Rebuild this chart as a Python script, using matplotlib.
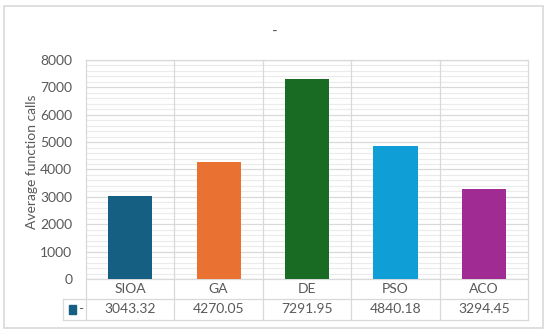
import matplotlib
matplotlib.use("Agg")
import matplotlib.pyplot as plt
from matplotlib.patches import Rectangle
from matplotlib.ticker import MultipleLocator
import matplotlib.transforms as mtrans

# ---------------- data ----------------
methods = ["SIOA", "GA", "DE", "PSO", "ACO"]
calls = [3043.32, 4270.05, 7291.95, 4840.18, 3294.45]
value_labels = ["3043.32", "4270.05", "7291.95", "4840.18", "3294.45"]
bar_colors = ["#156082", "#E97132", "#196B24", "#0F9ED5", "#A02B93"]
series_name = "-"

plt.rcParams["font.family"] = ["Lato", "DejaVu Sans"]
txt = "#595959"
grid_major = "#d9d9d9"
grid_minor = "#ebebeb"
fs = 10

fig = plt.figure(figsize=(5.5, 3.34), dpi=100)
ax = fig.add_axes([0.1564, 0.1647, 0.8036, 0.6557])

x = list(range(len(methods)))
ax.bar(x, calls, width=0.5, color=bar_colors, zorder=3)

ax.set_xlim(-0.5, len(methods) - 0.5)
ax.set_ylim(0, 8000)
ax.yaxis.set_major_locator(MultipleLocator(1000))
ax.yaxis.set_minor_locator(MultipleLocator(200))
ax.grid(which="major", axis="y", color=grid_major, lw=0.9, zorder=1)
ax.grid(which="minor", axis="y", color=grid_minor, lw=0.8, zorder=0)
ax.tick_params(axis="y", which="both", length=0, labelsize=fs, labelcolor=txt, pad=10)
ax.set_xticks([])
for s in ax.spines.values():
    s.set_visible(False)
ax.set_ylabel("Average function calls", fontsize=fs, color=txt)
ax.yaxis.set_label_coords(-0.109, 0.534)

# column separators through plot and data table
trans = mtrans.blended_transform_factory(ax.transData, ax.transAxes)
row1 = -0.0913
row2 = -0.187
leg_left = -0.76
for b in [i - 0.5 for i in range(len(methods) + 1)]:
    ax.plot([b, b], [row2, 1], transform=trans, color=grid_major, lw=0.9,
            clip_on=False, zorder=2)
ax.plot([-0.5, len(methods) - 0.5], [1, 1], transform=trans, color=grid_major,
        lw=0.9, clip_on=False, zorder=2)
ax.plot([-0.5, len(methods) - 0.5], [0, 0], transform=trans, color=grid_major,
        lw=0.9, clip_on=False, zorder=2)
for yy in (row1, row2):
    ax.plot([leg_left, len(methods) - 0.5], [yy, yy], transform=trans,
            color=grid_major, lw=0.9, clip_on=False)
ax.plot([leg_left, leg_left], [row1, row2], transform=trans, color=grid_major,
        lw=0.9, clip_on=False)

for i, (m, v) in enumerate(zip(methods, value_labels)):
    ax.text(i, row1 / 2, m, transform=trans, ha="center", va="center",
            fontsize=fs, color=txt)
    ax.text(i, (row1 + row2) / 2, v, transform=trans, ha="center", va="center",
            fontsize=fs, color=txt)

# legend key in the table
ax.add_patch(Rectangle((-0.695, (row1 + row2) / 2 - 0.022), 0.08, 0.044,
                       transform=trans, color=bar_colors[0], clip_on=False))
ax.text(-0.585, (row1 + row2) / 2, series_name, transform=trans, ha="left",
        va="center", fontsize=fs, color=txt)

fig.text(0.5, 0.905, "-", ha="center", va="center", fontsize=11, color=txt)

# outer chart border
fig.patches.append(Rectangle((4 / 550, 6 / 334), 539 / 550, 322 / 334,
                             transform=fig.transFigure, fill=False,
                             ec="#d9d9d9", lw=1.2))

fig.savefig("out.png", dpi=100)
